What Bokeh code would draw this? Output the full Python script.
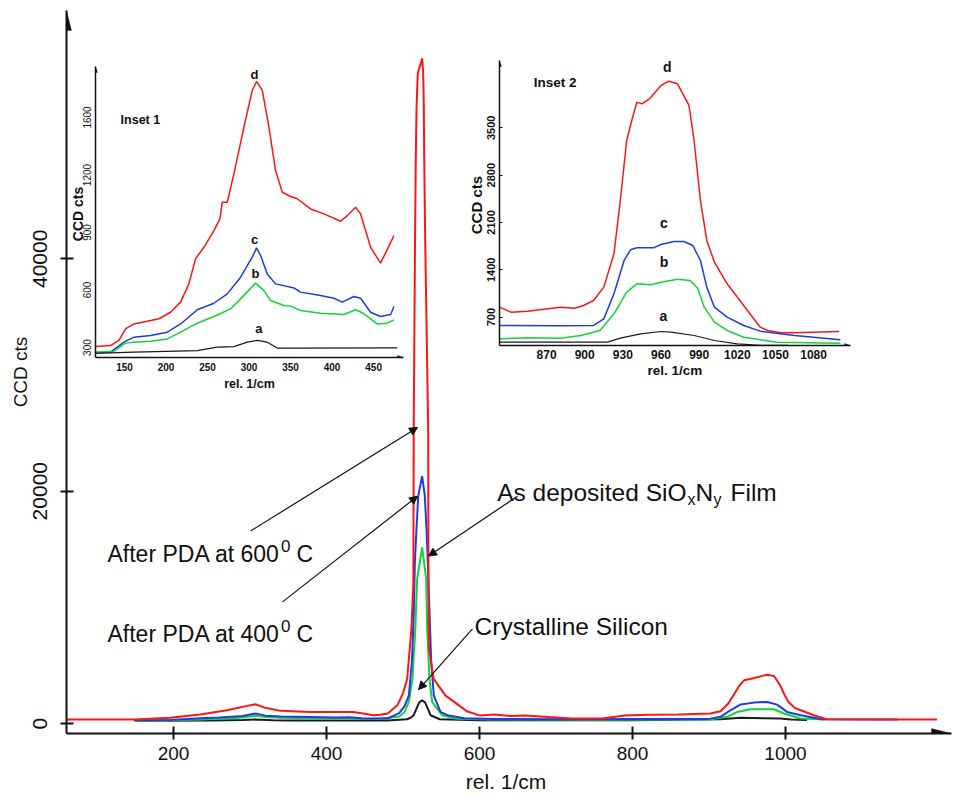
from bokeh.plotting import figure
from bokeh.models import Range1d, FixedTicker, Label, Arrow, NormalHead, PolyAnnotation
from bokeh.embed import file_html
from bokeh.resources import INLINE

RED = "#ff1414"
BLUE = "#1e3ce6"
GREEN = "#14d23a"
BLACK = "#1a1a1a"
REG = "Liberation Sans"

# ---------------- main spectra (rel. 1/cm, CCD cts) ----------------
red_x = [60, 148, 196, 235, 270, 296, 307, 320, 340, 379, 435, 450, 461, 470, 480, 493, 500, 505.5, 511, 513.5,
         514, 515.7, 516.7, 517.7, 519.3, 525, 526.4, 527.2, 527.7, 529, 532.9, 533.3, 534, 539.9, 555.6, 584.3,
         600, 620, 640, 660, 690, 720, 760, 790, 820, 860, 902, 915, 925, 932, 940, 946, 959, 970, 976, 985, 993,
         1000, 1004, 1012, 1020, 1037, 1054, 1100, 1198]
red_y = [340, 340, 490, 770, 1140, 1520, 1660, 1350, 1090, 1000, 1000, 850, 710, 760, 860, 1600, 2600, 3860, 8150,
         12000, 25300, 41600, 48760, 53050, 55970, 57250, 55970, 53050, 48760, 41630, 25320, 10700, 6440, 3860,
         2400, 1030, 700, 780, 650, 700, 560, 430, 430, 700, 760, 780, 860, 1060, 1700, 2430, 3300, 3720, 3920,
         4100, 4200, 4090, 3290, 2300, 1860, 1350, 1140, 715, 370, 350, 340]
blue_x = [148, 196, 235, 260, 290, 307, 320, 340, 380, 412, 430, 446, 460, 480, 495, 502, 507.6, 511.6, 514.1,
          515.5, 517.6, 519.9, 525, 528.5, 530.7, 532.4, 534.6, 536.9, 540.3, 549, 558, 580, 620, 700, 800, 900,
          915, 928, 941, 959, 976, 989, 1002, 1020, 1047, 1146]
blue_y = [285, 300, 450, 520, 650, 860, 680, 600, 560, 510, 540, 460, 430, 450, 900, 1500, 2400, 5320, 9610,
          13900, 16740, 19600, 21300, 19600, 16740, 13900, 9610, 5320, 2400, 1000, 715, 450, 400, 370, 380, 400,
          575, 1140, 1630, 1800, 1860, 1630, 1000, 715, 370, 340]
green_x = [150, 196, 235, 270, 290, 307, 320, 340, 380, 430, 446, 470, 495, 502, 507.6, 512.4, 516.1, 518.5, 525,
           530.3, 531.6, 534.6, 538.1, 551, 570, 620, 750, 900, 924, 937, 954, 985, 998, 1020, 1052]
green_y = [250, 280, 350, 430, 520, 660, 560, 490, 460, 480, 420, 380, 600, 1000, 1860, 3860, 8150, 12450, 15170,
           12450, 8150, 3860, 1860, 715, 420, 350, 330, 340, 575, 1000, 1230, 1230, 860, 430, 340]
black_x = [150, 250, 290, 307, 330, 350, 480, 505, 510, 514, 517.6, 521, 525, 529, 532.4, 536, 548, 600, 800, 915,
           941, 993, 1007, 1028]
black_y = [250, 260, 300, 340, 290, 260, 260, 370, 500, 715, 1290, 1800, 2000, 1800, 1290, 715, 370, 280, 290, 370,
           490, 430, 340, 300]
main_xticks = [200, 400, 600, 800, 1000]
main_yticks = [0, 20000, 40000]

# ---------------- inset 1 (100-500 rel. 1/cm) ----------------
i1_red_x = [115.1, 133.1, 143.2, 151.2, 161.2, 177.3, 191.4, 205.4, 217.5, 227.5, 235.5, 245.6, 257.6, 264.9, 267.7,
            273.7, 281.7, 293.8, 303.8, 309.0, 315.9, 323.9, 331.9, 340.0, 350.0, 358.0, 374.1, 390.2, 410.2, 416.3,
            428.3, 434.3, 446.4, 458.4, 474.5]
i1_red_y = [305, 310, 337, 397, 423, 437, 450, 484, 537, 632, 763, 823, 910, 971, 1058, 1058, 1206, 1450, 1641, 1688,
            1641, 1450, 1223, 1110, 1088, 1076, 1023, 997, 959, 980, 1032, 997, 823, 740, 884]
i1_blue_x = [115.1, 133.1, 149.2, 161.2, 181.3, 201.4, 217.5, 237.6, 257.6, 273.7, 289.8, 303.8, 309.0, 313.9, 321.9,
             331.9, 354.0, 362.0, 386.1, 402.2, 412.2, 426.3, 434.3, 446.4, 458.4, 470.5, 474.5]
i1_blue_y = [276, 276, 328, 354, 363, 380, 423, 497, 531, 580, 667, 771, 820, 780, 684, 632, 611, 589, 571, 557, 537,
             566, 557, 484, 462, 472, 514]
i1_green_x = [115.1, 137.1, 151.2, 161.2, 181.3, 201.4, 217.5, 237.6, 257.6, 277.7, 291.8, 307.8, 317.9, 325.9, 342.0,
              350.0, 362.0, 386.1, 414.3, 428.3, 438.4, 454.4, 466.5, 474.5]
i1_green_y = [276, 281, 323, 328, 333, 345, 380, 427, 462, 502, 563, 636, 597, 545, 519, 516, 493, 479, 472, 497, 476,
              423, 427, 444]
i1_black_x = [115.1, 161.2, 237.6, 261.6, 281.7, 297.8, 309.8, 321.9, 333.9, 346.0, 478.5]
i1_black_y = [270, 276, 284, 302, 305, 328, 337, 328, 297, 297, 298]
i1_xticks = [150, 200, 250, 300, 350, 400, 450]
i1_yticks = [300, 600, 900, 1200, 1500]
i1_ylabels = {1500: "1600"}

# ---------------- inset 2 (850-1100 rel. 1/cm) ----------------
i2_red_x = [833, 842, 855, 881, 892, 899, 907, 915, 923, 928, 933, 937, 941, 945, 951, 960, 966, 973, 982, 986, 991,
            996, 1002, 1012, 1025, 1038, 1044, 1054, 1065, 1100]
i2_red_y = [848, 774, 789, 848, 833, 872, 946, 1144, 1636, 2425, 3312, 3608, 3879, 3854, 3928, 4125, 4189, 4150,
            3830, 3312, 2425, 1834, 1513, 1193, 872, 552, 503, 468, 468, 488]
i2_blue_x = [833, 881, 907, 915, 923, 931, 936, 941, 954, 960, 970, 978, 985, 991, 996, 1002, 1012, 1025, 1038, 1065,
             1101]
i2_blue_y = [577, 572, 577, 675, 1045, 1538, 1696, 1725, 1725, 1774, 1819, 1819, 1760, 1538, 1144, 848, 700, 577, 493,
             429, 365]
i2_green_x = [833, 855, 881, 897, 912, 923, 933, 941, 952, 960, 973, 983, 989, 994, 1002, 1012, 1025, 1051, 1101]
i2_green_y = [380, 394, 389, 429, 503, 749, 1070, 1193, 1178, 1217, 1262, 1242, 1119, 848, 626, 503, 404, 330, 316]
i2_black_x = [833, 907, 918, 928, 944, 960, 968, 986, 1002, 1020, 1038, 1060]
i2_black_y = [330, 330, 330, 389, 454, 488, 478, 429, 355, 306, 285, 283]
i2_xticks = [870, 900, 930, 960, 990, 1020, 1050, 1080]
i2_yticks = [700, 1400, 2100, 2800, 3500]


def clean(fig):
    fig.xgrid.visible = False
    fig.ygrid.visible = False
    fig.outline_line_color = None
    for ax in (fig.xaxis[0], fig.yaxis[0]):
        ax.minor_tick_line_color = None
        ax.axis_label_text_font_style = "normal"
        ax.major_label_text_color = "#111111"
        ax.axis_label_text_color = "#111111"
        ax.axis_line_color = "#111111"
        ax.major_tick_line_color = "#111111"
        ax.major_label_text_font = REG
        ax.axis_label_text_font = REG


def label(fig, x, y, text, size, style="normal", align="left", baseline="alphabetic"):
    fig.add_layout(Label(x=x, y=y, text=text, text_font=REG, text_font_size=f"{size}px",
                         text_font_style=style, text_align=align, text_baseline=baseline,
                         text_color="#111111"))


def axis_heads(fig, xr, yr, sx, sy, length, half):
    # sx, sy : pixels per data unit of the figure frame
    x0, x1 = xr
    y0, y1 = yr
    fig.add_layout(PolyAnnotation(xs=[x0 - half / sx, x0 + half / sx, x0], ys=[y1 - length / sy, y1 - length / sy, y1],
                                  fill_color="#111111", fill_alpha=1, line_color="#111111", line_width=1))
    fig.add_layout(PolyAnnotation(xs=[x1 - length / sx, x1 - length / sx, x1], ys=[y0 - half / sy, y0 + half / sy, y0],
                                  fill_color="#111111", fill_alpha=1, line_color="#111111", line_width=1))


# ================= main figure =================
MX = (60.1, 1217.0)
MY = (-858.0, 61376.0)
p = figure(width=955, height=795, x_range=Range1d(*MX), y_range=Range1d(*MY),
           output_backend="svg", toolbar_location=None,
           min_border_left=66, min_border_right=4, min_border_top=10, min_border_bottom=60)
clean(p)
p.xaxis.ticker = FixedTicker(ticks=main_xticks)
p.yaxis.ticker = FixedTicker(ticks=main_yticks)
for ax in (p.xaxis[0], p.yaxis[0]):
    ax.axis_line_width = 2
    ax.major_tick_line_width = 2
    ax.major_tick_in = 7
    ax.major_tick_out = 6
p.xaxis.major_label_text_font_size = "19px"
p.xaxis.major_label_standoff = 7
p.xaxis.axis_label = "rel.  1/cm"
p.xaxis.axis_label_text_font_size = "21px"
p.xaxis.axis_label_standoff = 7
p.yaxis.major_label_orientation = "vertical"
p.yaxis.major_label_text_font_size = "21px"
p.yaxis.major_label_standoff = 13
p.yaxis.axis_label = "CCD cts"
p.yaxis.axis_label_text_font_size = "19px"
p.yaxis.axis_label_standoff = 0

p.line(black_x, black_y, line_color=BLACK, line_width=2)
p.line(green_x, green_y, line_color=GREEN, line_width=2)
p.line(blue_x, blue_y, line_color=BLUE, line_width=2)
p.line(red_x, red_y, line_color=RED, line_width=2)

axis_heads(p, MX, MY, 885 / (MX[1] - MX[0]), 725 / (MY[1] - MY[0]), 20, 5)

for (xs, ys, xe, ye) in [(300.7, 16570, 519, 25490), (342.5, 10470, 519, 19570),
                         (649.7, 19570, 533.3, 14420), (590.8, 8150, 520.3, 2920)]:
    p.add_layout(Arrow(end=NormalHead(size=8, fill_color="#111111", line_color="#111111"),
                       x_start=xs, y_start=ys, x_end=xe, y_end=ye, line_color="#111111", line_width=1.2))

label(p, 113.7, 14593, "After PDA at 600", 23)
label(p, 340.5, 15280, "0", 17)
label(p, 360.8, 14593, "C", 23)
label(p, 113.7, 7726, "After PDA at 400", 23)
label(p, 340.5, 8412, "0", 17)
label(p, 360.8, 7726, "C", 23)
label(p, 623.1, 19890, "As deposited SiO", 24.5)
label(p, 871.9, 19314, "x", 16)
label(p, 882.4, 19890, "N", 24.5)
label(p, 905.9, 19314, "y", 16)
label(p, 928.1, 19890, "Film", 24.5)
label(p, 593.5, 8387, "Crystalline Silicon", 24.5)

# ================= inset 1 =================
I1X = (115.0, 486.0)
I1Y = (248.0, 1766.0)
i1 = figure(width=344, height=330, x_range=Range1d(*I1X), y_range=Range1d(*I1Y),
            output_backend="svg", toolbar_location=None,
            min_border_left=29, min_border_right=7, min_border_top=2, min_border_bottom=37,
            background_fill_color=None, border_fill_color=None,
            styles={"position": "absolute", "left": "66px", "top": "64px"})
clean(i1)
i1.xaxis.ticker = FixedTicker(ticks=i1_xticks)
i1.yaxis.ticker = FixedTicker(ticks=i1_yticks)
i1.yaxis.major_label_overrides = i1_ylabels
for ax in (i1.xaxis[0], i1.yaxis[0]):
    ax.axis_line_width = 1.5
    ax.major_tick_in = 0
    ax.major_tick_out = 0
    ax.major_label_text_font_style = "bold"
    ax.axis_label_text_font_style = "bold"
i1.xaxis.major_label_text_font_size = "10px"
i1.xaxis.major_label_standoff = 5
i1.xaxis.axis_label = "rel. 1/cm"
i1.xaxis.axis_label_text_font_size = "12.5px"
i1.xaxis.axis_label_standoff = 3
i1.yaxis.major_label_orientation = "vertical"
i1.yaxis.major_label_text_font_size = "10px"
i1.yaxis.major_label_text_font_style = "normal"
i1.yaxis.major_label_standoff = 4
i1.yaxis.axis_label = "CCD  cts"
i1.yaxis.axis_label_text_font_size = "14px"
i1.yaxis.axis_label_standoff = -5

i1.line(i1_red_x, i1_red_y, line_color=RED, line_width=1.5)
i1.line(i1_blue_x, i1_blue_y, line_color=BLUE, line_width=1.5)
i1.line(i1_green_x, i1_green_y, line_color=GREEN, line_width=1.5)
i1.line(i1_black_x, i1_black_y, line_color=BLACK, line_width=1.2)
axis_heads(i1, I1X, I1Y, 308 / (I1X[1] - I1X[0]), 291 / (I1Y[1] - I1Y[0]), 6, 2)

label(i1, 145.2, 1488, "Inset 1", 12.5, style="bold", baseline="middle")
label(i1, 306.6, 1724, "d", 13, style="bold", align="center", baseline="middle")
label(i1, 306.6, 862, "c", 13, style="bold", align="center", baseline="middle")
label(i1, 307.8, 688, "b", 13, style="bold", align="center", baseline="middle")
label(i1, 311.8, 397, "a", 13, style="bold", align="center", baseline="middle")

# ================= inset 2 =================
I2X = (833.0, 1109.0)
I2Y = (281.0, 4495.0)
i2 = figure(width=396, height=331, x_range=Range1d(*I2X), y_range=Range1d(*I2Y),
            output_backend="svg", toolbar_location=None,
            min_border_left=37, min_border_right=8, min_border_top=8, min_border_bottom=38,
            background_fill_color=None, border_fill_color=None,
            styles={"position": "absolute", "left": "462px", "top": "52px"})
clean(i2)
i2.xaxis.ticker = FixedTicker(ticks=i2_xticks)
i2.yaxis.ticker = FixedTicker(ticks=i2_yticks)
for ax in (i2.xaxis[0], i2.yaxis[0]):
    ax.axis_line_width = 1.5
    ax.major_tick_out = 0
    ax.major_label_text_font_style = "bold"
    ax.axis_label_text_font_style = "bold"
i2.xaxis.major_tick_in = 0
i2.yaxis.major_tick_in = 3
i2.xaxis.major_label_text_font_size = "12px"
i2.xaxis.major_label_standoff = 4
i2.xaxis.axis_label = "rel. 1/cm"
i2.xaxis.axis_label_text_font_size = "13.5px"
i2.xaxis.axis_label_standoff = 1
i2.yaxis.major_label_orientation = "vertical"
i2.yaxis.major_label_text_font_size = "11px"
i2.yaxis.major_label_standoff = 4
i2.yaxis.axis_label = "CCD  cts"
i2.yaxis.axis_label_text_font_size = "15px"
i2.yaxis.axis_label_standoff = 0

i2.line(i2_red_x, i2_red_y, line_color=RED, line_width=1.5)
i2.line(i2_blue_x, i2_blue_y, line_color=BLUE, line_width=1.5)
i2.line(i2_green_x, i2_green_y, line_color=GREEN, line_width=1.5)
i2.line(i2_black_x, i2_black_y, line_color=BLACK, line_width=1.2)
axis_heads(i2, I2X, I2Y, 351 / (I2X[1] - I2X[0]), 285 / (I2Y[1] - I2Y[0]), 6, 2)

label(i2, 860, 4175, "Inset 2", 13.5, style="bold", baseline="middle")
label(i2, 964.9, 4396, "d", 14, style="bold", align="center", baseline="middle")
label(i2, 962.3, 2090, "c", 14, style="bold", align="center", baseline="middle")
label(i2, 962.3, 1513, "b", 14, style="bold", align="center", baseline="middle")
label(i2, 961.8, 710, "a", 14, style="bold", align="center", baseline="middle")

open("out.html", "w").write(file_html([p, i1, i2], INLINE))
